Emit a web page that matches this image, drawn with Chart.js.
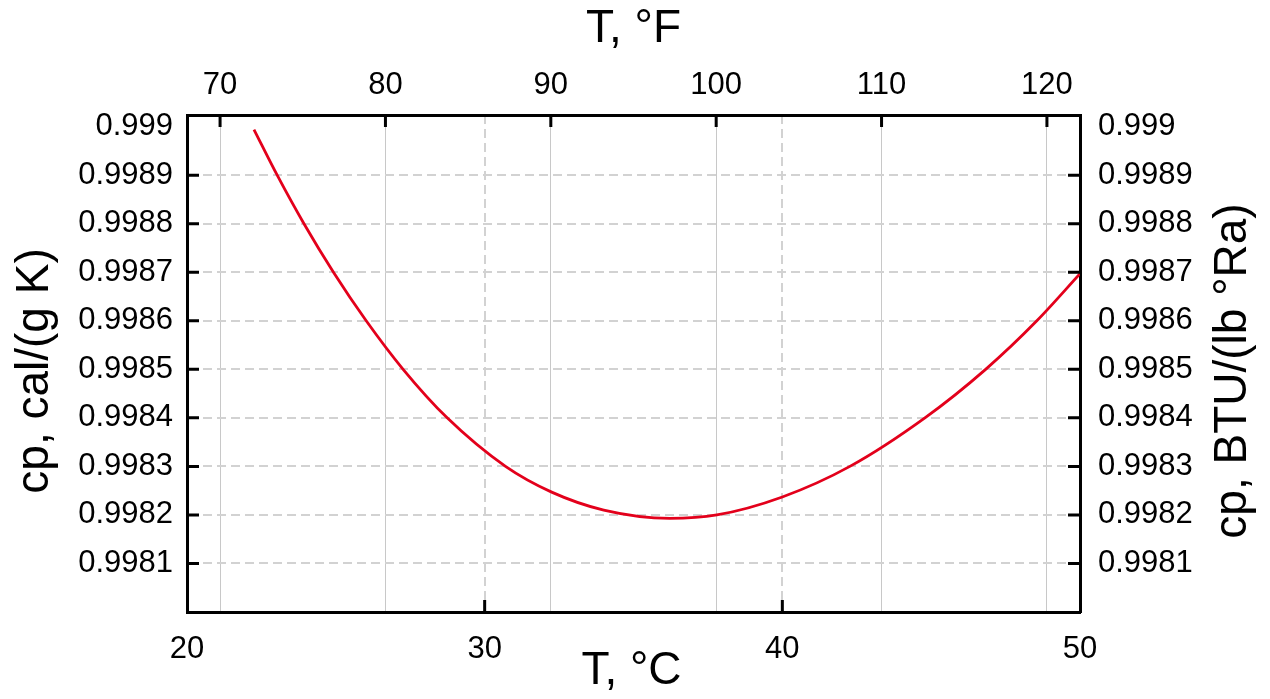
<!DOCTYPE html>
<html>
<head>
<meta charset="utf-8">
<title>cp of water</title>
<script src="https://cdn.jsdelivr.net/npm/chart.js@4.4.0/dist/chart.umd.min.js"></script>
<style>
  html, body { margin: 0; padding: 0; background: #fff; }
  #wrap { width: 1270px; height: 699px; position: relative; }
</style>
</head>
<body>
<div id="wrap"><canvas id="chart"></canvas></div>
<script>
// Specific heat of water
const tempC = [22.25, 23.03, 23.93, 24.92, 26.02, 27.26, 28.74, 30.70, 32.25, 34.00, 36.22,
               37.80, 40.00, 42.27, 44.79, 46.83, 48.55, 50.00];
const cpCal = [0.998994, 0.998900, 0.998800, 0.998700, 0.998600, 0.998500, 0.998400, 0.998300,
               0.998247, 0.998210, 0.998193, 0.998200, 0.998237, 0.998300, 0.998400, 0.998500,
               0.998600, 0.998697];

// axis ticks
const celsiusTicks = [20, 30, 40, 50];
const fahrenheitTicks = [70, 80, 90, 100, 110, 120];
const cpTicks = [0.9981, 0.9982, 0.9983, 0.9984, 0.9985, 0.9986, 0.9987, 0.9988, 0.9989, 0.999];
const cpMarks = [0.9981, 0.9982, 0.9983, 0.9984, 0.9985, 0.9986, 0.9987, 0.9988, 0.9989];
const celsiusMarks = [30, 40];

const FONT = '"Liberation Sans", Arial, sans-serif';
const tickFont = { family: FONT, size: 31 };

/**
 * Inward tick marks + axis titles (right title reads bottom-to-top like the left one)
 */
const frameExtras = {
  id: 'frameExtras',
  afterDatasetsDraw(chart) {
    const { ctx, chartArea: a, scales } = chart;
    const len = 12;
    ctx.save();
    ctx.strokeStyle = '#000';
    ctx.lineWidth = 3;
    ctx.beginPath();
    celsiusMarks.forEach(v => {
      const x = scales.x.getPixelForValue(v);
      ctx.moveTo(x, a.bottom);
      ctx.lineTo(x, a.bottom - len);
    });
    fahrenheitTicks.forEach(v => {
      const x = scales.x2.getPixelForValue(v);
      ctx.moveTo(x, a.top);
      ctx.lineTo(x, a.top + len);
    });
    cpMarks.forEach(v => {
      const y = scales.y.getPixelForValue(v);
      ctx.moveTo(a.left, y);
      ctx.lineTo(a.left + len, y);
      ctx.moveTo(a.right, y);
      ctx.lineTo(a.right - len, y);
    });
    ctx.stroke();
    ctx.restore();
  },
  afterDraw(chart) {
    const { ctx, chartArea: a } = chart;
    const cx = (a.left + a.right) / 2;
    ctx.save();
    ctx.fillStyle = '#000';
    ctx.font = '46px ' + FONT;
    ctx.textAlign = 'center';
    ctx.textBaseline = 'alphabetic';
    ctx.fillText('T, °F', cx, 42);
    ctx.fillText('T, °C', cx - 2, 684);

    ctx.save();
    ctx.translate(48, 371);
    ctx.rotate(-Math.PI / 2);
    ctx.fillText('cp, cal/(g K)', 0, 0);
    ctx.restore();

    ctx.save();
    ctx.translate(1246, 371);
    ctx.rotate(-Math.PI / 2);
    ctx.fillText('cp, BTU/(lb °Ra)', 0, 0);
    ctx.restore();
    ctx.restore();
  }
};

const fmt = v => String(+Number(v).toFixed(4));
const setTicks = list => scale => { scale.ticks = list.map(v => ({ value: v })); };

new Chart(document.getElementById('chart'), {
  type: 'scatter',
  data: {
    datasets: [{
      data: tempC.map((t, i) => ({ x: t, y: cpCal[i] })),
      showLine: true,
      borderColor: '#e3001b',
      borderWidth: 2.8,
      pointRadius: 0,
      cubicInterpolationMode: 'monotone',
      xAxisID: 'x',
      yAxisID: 'y'
    }]
  },
  options: {
    responsive: true,
    maintainAspectRatio: false,
    animation: false,
    layout: { padding: 0 },
    plugins: { legend: { display: false }, tooltip: { enabled: false } },
    scales: {
      x: {
        type: 'linear',
        position: 'bottom',
        min: 20,
        max: 50,
        afterBuildTicks: setTicks(celsiusTicks),
        afterFit: s => { s.height = 87; },
        ticks: { font: tickFont, color: '#000', padding: 19, maxRotation: 0, autoSkip: false, callback: fmt },
        grid: {
          color: c => (c.tick && (c.tick.value === 20 || c.tick.value === 50)) ? 'rgba(0,0,0,0)' : '#d2d2d2',
          lineWidth: 2,
          drawTicks: false,
          tickLength: 0
        },
        border: { display: true, color: '#000', width: 3, dash: [9, 5] }
      },
      x2: {
        type: 'linear',
        position: 'top',
        min: 68,
        max: 122,
        afterBuildTicks: setTicks(fahrenheitTicks),
        afterFit: s => { s.height = 115; },
        ticks: { font: tickFont, color: '#000', padding: 11, maxRotation: 0, autoSkip: false, callback: fmt },
        grid: { color: '#c8c8c8', lineWidth: 1, drawTicks: false, tickLength: 0 },
        border: { display: true, color: '#000', width: 3 }
      },
      y: {
        type: 'linear',
        position: 'left',
        min: 0.998,
        max: 0.999024,
        afterBuildTicks: setTicks(cpTicks),
        afterFit: s => { s.width = 187; },
        ticks: { font: tickFont, color: '#000', padding: 14, autoSkip: false, callback: fmt },
        grid: {
          color: c => (c.tick && c.tick.value > 0.99895) ? 'rgba(0,0,0,0)' : '#d2d2d2',
          lineWidth: 2,
          drawTicks: false,
          tickLength: 0
        },
        border: { display: true, color: '#000', width: 3, dash: [9, 5] }
      },
      y2: {
        type: 'linear',
        position: 'right',
        min: 0.998,
        max: 0.999024,
        afterBuildTicks: setTicks(cpTicks),
        afterFit: s => { s.width = 190; },
        ticks: { font: tickFont, color: '#000', padding: 18, autoSkip: false, callback: fmt },
        grid: { drawOnChartArea: false, drawTicks: false, tickLength: 0 },
        border: { display: true, color: '#000', width: 3 }
      }
    }
  },
  plugins: [frameExtras]
});
</script>
</body>
</html>
